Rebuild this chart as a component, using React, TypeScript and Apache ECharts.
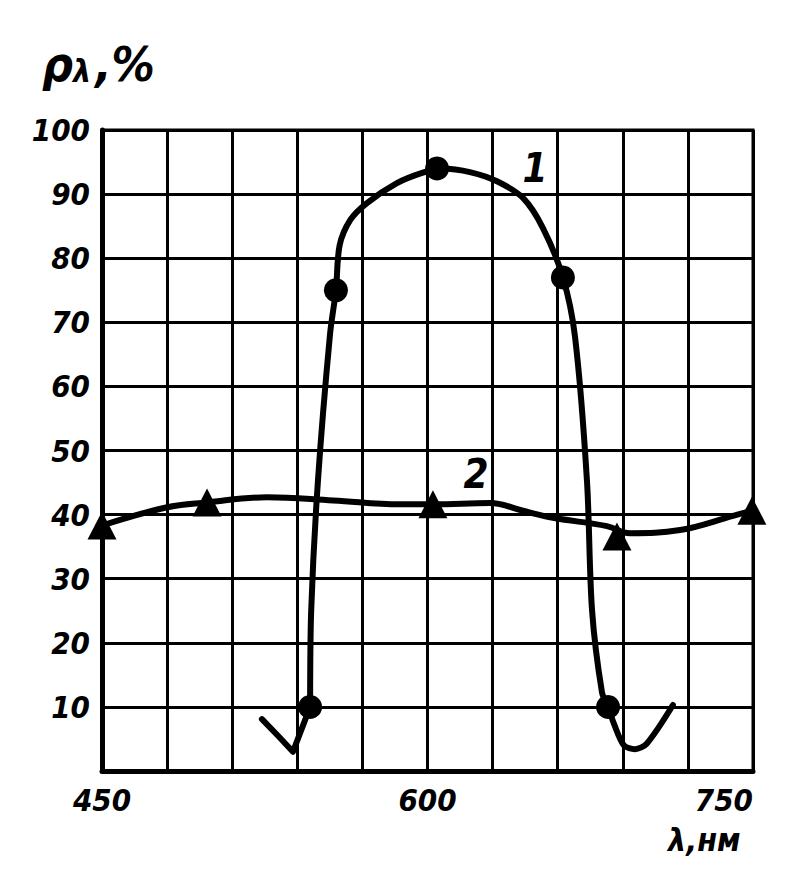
import React, { useEffect, useRef } from "react";
import * as echarts from "echarts";

// ---- data ----
const xLabelValues = [450, 600, 750];
const yMin = 0;
const yMax = 100;

// curve 1: left "V" tail (drawn straight)
const curve1Tail: [number, number][] = [
  [523.7, 8.1],
  [531.1, 5.5],
  [538.0, 3.0],
  [545.9, 10.0],
];
// curve 1: main band
const curve1Line: [number, number][] = [
  [545.9, 10.0],
  [546.4, 25.0],
  [549.5, 45.2],
  [555.1, 68.2],
  [557.8, 75.0],
  [559.5, 82.0],
  [564.5, 86.0],
  [572.1, 88.6],
  [585.9, 91.7],
  [597.5, 93.3],
  [606.5, 94.0],
  [620.0, 93.4],
  [632.0, 92.0],
  [644.0, 89.4],
  [653.2, 84.7],
  [662.4, 77.0],
  [668.0, 67.7],
  [673.5, 45.2],
  [675.8, 25.2],
  [680.4, 12.3],
  [683.2, 10.0],
  [686.0, 7.3],
  [690.5, 4.0],
  [695.6, 3.4],
  [701.1, 4.3],
  [713.1, 10.3],
];
const curve1Markers: [number, number][] = [
  [545.9, 10.0],
  [557.8, 75.0],
  [604.4, 94.0],
  [662.4, 77.0],
  [683.2, 10.0],
];

// curve 2
const curve2Line: [number, number][] = [
  [450.0, 38.3],
  [479.5, 41.1],
  [498.4, 41.9],
  [526.0, 42.7],
  [556.5, 42.2],
  [587.4, 41.6],
  [602.5, 41.6],
  [628.8, 41.8],
  [644.0, 40.6],
  [657.8, 39.5],
  [682.7, 38.2],
  [693.3, 37.1],
  [716.4, 37.6],
  [740.8, 39.8],
  [749.5, 40.6],
];
const curve2Markers: [number, number][] = [
  [450.0, 38.3],
  [498.4, 41.9],
  [602.5, 41.6],
  [687.3, 36.6],
  [749.5, 40.6],
];

const curveNames = [
  { name: "1", value: [649.5, 94.0] },
  { name: "2", value: [622.3, 46.4] },
];

const FONT = "'Liberation Sans Narrow', 'DejaVu Sans Condensed', 'Liberation Sans', sans-serif";

export default function App() {
  const ref = useRef<HTMLDivElement>(null);

  useEffect(() => {
    if (!ref.current) return;
    const chart = echarts.init(ref.current, undefined, { renderer: "svg" });
    const labelStyle = {
      color: "#000",
      fontFamily: FONT,
      fontStyle: "italic" as const,
      fontWeight: "bold" as const,
      fontSize: 31,
    };
    const curveStyle = { color: "#000", width: 6, cap: "round" as const, join: "round" as const };

    chart.setOption({
      animation: false,
      backgroundColor: "#fff",
      grid: {
        left: 102,
        top: 130,
        width: 651,
        height: 641,
        show: true,
        borderColor: "#000",
        borderWidth: 3,
        backgroundColor: "transparent",
      },
      xAxis: {
        type: "value",
        min: 450,
        max: 750,
        interval: 30,
        axisLine: { show: true, onZero: false, lineStyle: { color: "#000", width: 5 } },
        axisTick: { show: false },
        splitLine: { show: true, lineStyle: { color: "#000", width: 3 } },
        axisLabel: {
          ...labelStyle,
          margin: 13,
          showMinLabel: true,
          showMaxLabel: true,
          alignMaxLabel: "right",
          formatter: (v: number) => (xLabelValues.includes(v) ? String(v) : ""),
        },
      },
      yAxis: {
        type: "value",
        min: yMin,
        max: yMax,
        interval: 10,
        axisLine: { show: true, lineStyle: { color: "#000", width: 5 } },
        axisTick: { show: false },
        splitLine: { show: true, lineStyle: { color: "#000", width: 3 } },
        axisLabel: {
          ...labelStyle,
          margin: 12,
          formatter: (v: number) => (v === 0 ? "" : String(v)),
        },
      },
      graphic: [
        {
          type: "text",
          left: 42,
          top: 40,
          style: {
            text: "{a|ρ}{b|λ}{a|,%}",
            rich: {
              a: { fontFamily: FONT, fontStyle: "italic", fontWeight: "bold", fontSize: 48, fill: "#000" },
              b: { fontFamily: FONT, fontStyle: "italic", fontWeight: "bold", fontSize: 32, fill: "#000", padding: [14, 4, 0, 0] },
            },
          },
        },
        {
          type: "text",
          left: 668,
          top: 824,
          style: {
            text: "λ,нм",
            fontFamily: FONT,
            fontStyle: "italic",
            fontWeight: "bold",
            fontSize: 32,
            fill: "#000",
          },
        },
      ],
      series: [
        {
          type: "line",
          data: curve1Tail,
          smooth: false,
          symbol: "none",
          lineStyle: curveStyle,
          clip: false,
        },
        {
          type: "line",
          data: curve1Line,
          smooth: 0.3,
          symbol: "none",
          lineStyle: curveStyle,
          clip: false,
        },
        {
          type: "line",
          data: curve2Line,
          smooth: 0.4,
          symbol: "none",
          lineStyle: curveStyle,
          clip: false,
        },
        {
          type: "scatter",
          data: curve1Markers,
          symbol: "circle",
          symbolSize: 24,
          itemStyle: { color: "#000", opacity: 1 },
          clip: false,
          z: 5,
        },
        {
          type: "scatter",
          data: curve2Markers,
          symbol: "triangle",
          symbolSize: [29, 28],
          itemStyle: { color: "#000", opacity: 1 },
          clip: false,
          z: 5,
        },
        {
          type: "scatter",
          data: curveNames,
          symbolSize: 1,
          itemStyle: { color: "#fff", opacity: 0 },
          label: {
            show: true,
            position: "inside",
            formatter: (p: any) => p.name,
            color: "#000",
            opacity: 1,
            fontFamily: FONT,
            fontStyle: "italic",
            fontWeight: "bold",
            fontSize: 40,
          },
          z: 6,
        },
      ],
    });
    return () => chart.dispose();
  }, []);

  return (
    <div
      ref={ref}
      style={{ position: "absolute", left: 0, top: 0, width: 786, height: 884, background: "#fff" }}
    />
  );
}
